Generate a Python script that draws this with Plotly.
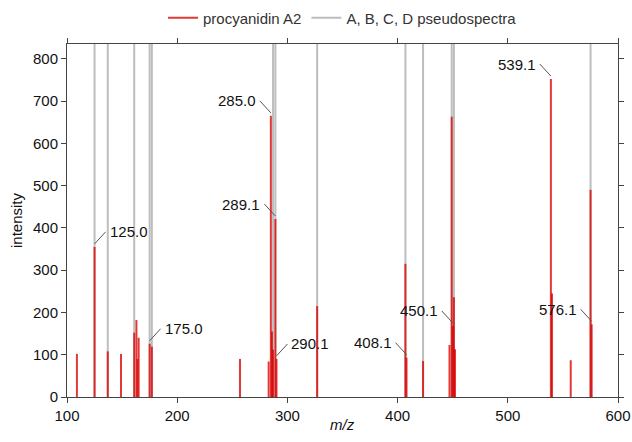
import plotly.graph_objects as go

# procyanidin A2 fragment spectrum (m/z, intensity)
a2_mz = [109.0, 125.0, 137.0, 149.0, 161.0, 163.0, 164.0, 165.0, 175.0, 177.0,
         257.0, 283.0, 285.0, 286.0, 287.0, 289.1, 290.1, 327.0, 407.1, 408.1,
         423.1, 447.1, 449.1, 450.1, 451.1, 452.1, 539.1, 540.1, 557.1, 575.1, 576.1]
a2_int = [102, 355, 108, 102, 152, 182, 90, 140, 126, 119,
          90, 84, 665, 155, 112, 421, 90, 215, 315, 93,
          85, 123, 663, 168, 236, 113, 752, 245, 87, 490, 172]

# A, B, C, D pseudospectra (off-scale sticks)
ps_mz = [125.0, 137.0, 161.0, 175.0, 177.0, 287.0, 289.1, 327.0, 407.1, 423.1,
         449.1, 451.1, 575.1]
ps_int = [2000] * len(ps_mz)

# labelled peaks and label side (+1 right, -1 left)
lab_mz = [125.0, 175.0, 285.0, 289.1, 290.1, 408.1, 450.1, 539.1, 576.1]
lab_side = [1, 1, -1, -1, 1, -1, -1, -1, -1]

x_ticks = [100, 200, 300, 400, 500, 600]
y_ticks = [0, 100, 200, 300, 400, 500, 600, 700, 800]


def sticks(mz, inten):
    xs, ys = [], []
    for m, v in zip(mz, inten):
        xs += [m, m, None]
        ys += [0, v, None]
    return xs, ys


FONT = "Liberation Sans, Arial, sans-serif"
fig = go.Figure()

gx, gy = sticks(ps_mz, ps_int)
fig.add_trace(go.Scatter(x=gx, y=gy, mode="lines", name="A, B, C, D pseudospectra",
                         line=dict(color="#bdbdbd", width=2), legendrank=2,
                         hoverinfo="skip"))
rx, ry = sticks(a2_mz, a2_int)
fig.add_trace(go.Scatter(x=rx, y=ry, mode="lines", name="procyanidin A2",
                         line=dict(color="rgba(218,0,0,0.78)", width=2), legendrank=1,
                         hoverinfo="skip"))

lookup = dict(zip(a2_mz, a2_int))
for m, s in zip(lab_mz, lab_side):
    v = lookup[m]
    fig.add_shape(type="line", xref="x", yref="y", xsizemode="pixel", ysizemode="pixel",
                  xanchor=m, yanchor=v, x0=0, y0=3, x1=11 * s, y1=15,
                  line=dict(color="#555555", width=1))
    fig.add_annotation(x=m, y=v, xref="x", yref="y", text=f"{m:.1f}", showarrow=False,
                       xanchor="left" if s > 0 else "right", yanchor="middle",
                       xshift=13 * s, yshift=15,
                       font=dict(family=FONT, size=15, color="#111111"))

# x-axis title placed just below the tick labels
fig.add_annotation(x=0.5, y=-0.079, xref="paper", yref="paper", text="<i>m/z</i>",
                   showarrow=False, xanchor="center", yanchor="middle",
                   font=dict(family=FONT, size=15, color="#111111"))

axis_common = dict(showgrid=False, zeroline=False, showline=True, linecolor="#444444",
                   linewidth=1, mirror="allticks", ticks="outside", ticklen=5,
                   tickcolor="#444444", automargin=False,
                   tickfont=dict(family=FONT, size=15, color="#111111"))

fig.update_layout(
    width=632, height=442,
    margin=dict(l=67, r=14, t=44, b=45, autoexpand=False),
    paper_bgcolor="white", plot_bgcolor="white",
    font=dict(family=FONT, size=15, color="#111111"),
    showlegend=True,
    legend=dict(orientation="h", x=0.5, xanchor="center", y=1.0737, yanchor="middle",
                bgcolor="rgba(0,0,0,0)",
                font=dict(family=FONT, size=15, color="#333333")),
    xaxis=dict(range=[100, 600], tickvals=x_ticks, **axis_common),
    yaxis=dict(range=[0, 835], tickvals=y_ticks,
               title=dict(text="intensity", font=dict(family=FONT, size=15), standoff=6),
               **axis_common),
)

fig.write_html("out.html", config={"displayModeBar": False},
               post_script="document.body.style.margin='0';")
